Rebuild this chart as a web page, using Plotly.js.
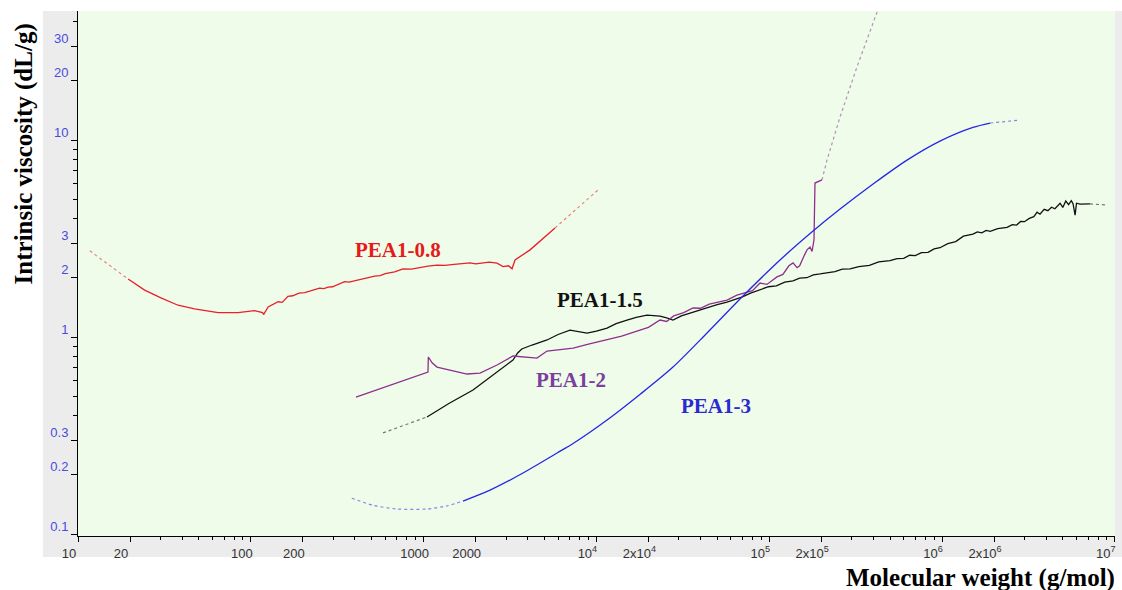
<!DOCTYPE html>
<html><head><meta charset="utf-8">
<script src="https://cdn.plot.ly/plotly-3.0.1.min.js"></script>
<style>html,body{margin:0;padding:0;background:#fff}#chart{width:1122px;height:590px}</style>
</head><body><div id="chart"></div>
<script>
// ---- Data (molecular weight in g/mol, intrinsic viscosity in dL/g) ----
const mwRed = [11.7, 14.3, 19.5, 24.3, 30.2, 37.9, 47.3, 64.6, 84.3, 105, 117, 118.5, 126, 135, 144, 152, 164, 175, 190, 205, 223, 236, 250, 265, 280, 297, 315, 332, 349, 370, 390, 412, 434, 475, 521, 560, 600, 680, 760, 850, 950, 1060, 1196, 1330, 1500, 1680, 1856, 2000, 2200, 2400, 2660, 2880, 3100, 3250, 3380, 4130, 5760, 7030, 10200];
const ivRed = [2.74, 2.41, 1.97, 1.73, 1.58, 1.45, 1.39, 1.33, 1.33, 1.36, 1.33, 1.30, 1.42, 1.46, 1.51, 1.50, 1.61, 1.62, 1.67, 1.68, 1.72, 1.74, 1.77, 1.76, 1.79, 1.80, 1.84, 1.86, 1.91, 1.90, 1.92, 1.95, 1.97, 2.00, 2.04, 2.05, 2.10, 2.14, 2.22, 2.21, 2.26, 2.29, 2.32, 2.31, 2.34, 2.36, 2.38, 2.35, 2.37, 2.40, 2.37, 2.28, 2.30, 2.22, 2.46, 2.77, 3.58, 4.16, 5.57];

const mwBlack = [582, 800, 1046, 1400, 1932, 2500, 3290, 3500, 3700, 4240, 5180, 6000, 7030, 8830, 10000, 11520, 13000, 15030, 17000, 19630, 21500, 23340, 25500, 27740, 31000, 36240, 40000, 45000, 50000, 57000, 63000, 70000, 78000, 88500, 99000, 110000, 123000, 137300, 150000, 165000, 180000, 196800, 218000, 240000, 265000, 293600, 330000, 380000, 430000, 500000, 550000, 600000, 650000, 700000, 760000, 830000, 900000, 973000, 1.08e6, 1.2e6, 1.33e6, 1.51e6, 1.6e6, 1.7e6, 1.8e6, 1.9e6, 2.1e6, 2.38e6, 2.55e6, 2.7e6, 2.85e6, 3.0e6, 3.2e6, 3.4e6, 3.55e6, 3.69e6, 3.9e6, 4.1e6, 4.3e6, 4.5e6, 4.82e6, 5.0e6, 5.2e6, 5.4e6, 5.6e6, 5.73e6, 5.89e6, 6.0e6, 6.29e6, 7.18e6, 9.0e6];
const ivBlack = [0.326, 0.36, 0.393, 0.46, 0.538, 0.64, 0.764, 0.83, 0.87, 0.911, 0.966, 1.03, 1.085, 1.048, 1.07, 1.111, 1.17, 1.22, 1.26, 1.293, 1.29, 1.278, 1.25, 1.22, 1.28, 1.339, 1.37, 1.42, 1.46, 1.505, 1.55, 1.60, 1.67, 1.733, 1.80, 1.82, 1.90, 1.93, 1.99, 2.00, 2.07, 2.09, 2.13, 2.15, 2.21, 2.22, 2.28, 2.31, 2.41, 2.44, 2.50, 2.51, 2.60, 2.59, 2.68, 2.69, 2.80, 2.84, 2.98, 3.05, 3.25, 3.33, 3.42, 3.38, 3.48, 3.44, 3.55, 3.60, 3.72, 3.70, 3.86, 3.85, 4.00, 4.08, 4.30, 4.20, 4.45, 4.38, 4.56, 4.48, 4.78, 4.55, 4.90, 4.70, 4.92, 4.75, 4.16, 4.78, 4.73, 4.74, 4.68];

const mwPurple = [406, 600, 800, 1060, 1065, 1120, 1196, 1421, 1783, 2120, 2660, 3290, 3710, 4530, 5180, 7330, 9000, 11520, 14000, 17870, 20000, 23340, 25500, 28000, 32000, 36240, 40000, 45000, 50000, 57000, 65000, 74400, 80000, 88500, 97000, 110900, 120000, 130000, 137300, 145000, 150000, 158000, 165500, 172200, 177000, 181600, 183000, 184000, 202000, 216000, 257000, 322000, 399000, 460000];
const ivPurple = [0.496, 0.559, 0.609, 0.664, 0.792, 0.74, 0.704, 0.680, 0.649, 0.656, 0.721, 0.801, 0.792, 0.782, 0.849, 0.879, 0.92, 0.966, 1.01, 1.085, 1.12, 1.22, 1.20, 1.28, 1.33, 1.404, 1.40, 1.47, 1.50, 1.54, 1.63, 1.693, 1.72, 1.88, 1.85, 2.02, 2.08, 2.30, 2.38, 2.25, 2.30, 2.55, 2.77, 2.86, 2.72, 3.11, 4.5, 6.05, 6.27, 7.91, 13.1, 23.5, 39.3, 55];

const mwBlue = [384, 509, 702, 1046, 1366, 1690, 2422, 3760, 5920, 7330, 11520, 18000, 27740, 43650, 70500, 115500, 179300, 257000, 399000, 627000, 973000, 1.51e6, 1.9e6, 2.75e6];
const ivBlue = [0.152, 0.140, 0.134, 0.134, 0.139, 0.147, 0.167, 0.204, 0.258, 0.288, 0.379, 0.514, 0.704, 1.048, 1.615, 2.46, 3.45, 4.46, 5.98, 7.91, 9.88, 11.6, 12.2, 12.6];

const seriesNames = ['PEA1-0.8', 'PEA1-1.5', 'PEA1-2', 'PEA1-3'];

const xTickVals = [10, 20, 100, 200, 1000, 2000, 1e4, 2e4, 1e5, 2e5, 1e6, 2e6, 1e7];
const xTickText = ['10', '20', '100', '200', '1000', '2000', '10<sup>4</sup>', '2x10<sup>4</sup>', '10<sup>5</sup>', '2x10<sup>5</sup>', '10<sup>6</sup>', '2x10<sup>6</sup>', '10<sup>7</sup>'];
const yTickVals = [0.1, 0.2, 0.3, 1, 2, 3, 10, 20, 30];
const yTickText = ['0.1', '0.2', '0.3', '1', '2', '3', '10', '20', '30'];

// ---- minor tick positions (3..9 in each decade) ----
const xMinor = [];
for (let d = 10; d < 1e7; d *= 10) for (let m = 3; m <= 9; m++) xMinor.push(m * d);
const yMinor = [0.4, 0.5, 0.6, 0.7, 0.8, 0.9, 4, 5, 6, 7, 8, 9, 40];

// ---- traces: solid body plus faint dotted ends ----
function piece(x, y, keep, color, faint, name, shape) {
  const xs = [], ys = [];
  x.forEach((v, i) => { if (keep(v)) { xs.push(v); ys.push(y[i]); } });
  return {
    x: xs, y: ys, type: 'scatter', mode: 'lines', name: name, showlegend: false,
    line: { color: color, width: faint ? 1.2 : 1.3, dash: faint ? 'dot' : 'solid', shape: shape || 'linear', smoothing: 0.8 },
    opacity: faint ? 0.55 : 1
  };
}
function series(x, y, lo, hi, color, name, shape) {
  return [
    piece(x, y, v => v <= lo, color, true, name, shape),
    piece(x, y, v => v >= lo && v <= hi, color, false, name, shape),
    piece(x, y, v => v >= hi, color, true, name, shape)
  ];
}
const RED = '#e8202a', BLACK = '#111111', PURPLE = '#8e2f8e', BLUE = '#2626e6';
const traces = [].concat(
  series(mwRed, ivRed, 19.5, 5760, RED, seriesNames[0]),
  series(mwBlack, ivBlack, 1046, 7.18e6, BLACK, seriesNames[1]),
  series(mwPurple, ivPurple, 0, 202000, PURPLE, seriesNames[2]),
  series(mwBlue, ivBlue, 1690, 1.9e6, BLUE, seriesNames[3], 'spline')
);

const SERIF = 'Liberation Serif, Times New Roman, serif';
const SANS = 'Liberation Sans, Arial, sans-serif';
function lab(text, x, y, color) {
  return { text: '<b>' + text + '</b>', x: Math.log10(x), y: Math.log10(y), xref: 'x', yref: 'y',
    showarrow: false, font: { family: SERIF, size: 21, color: color } };
}

const layout = {
  width: 1122, height: 590,
  margin: { l: 78, r: 7, t: 11, b: 54, pad: 0 },
  paper_bgcolor: '#ffffff', plot_bgcolor: '#effcea',
  showlegend: false,
  xaxis: {
    type: 'log', range: [1, 7.001], showgrid: false, zeroline: false,
    showline: true, linecolor: '#000', linewidth: 1,
    ticks: 'outside', ticklen: 5, tickcolor: '#000', tickwidth: 1,
    tickmode: 'array', tickvals: xTickVals, ticktext: xTickText,
    tickfont: { family: SANS, size: 13, color: '#333333' },
    ticklabelshift: -9,
    minor: { tickmode: 'array', tickvals: xMinor, ticks: 'outside', ticklen: 3, tickcolor: '#000', showgrid: false }
  },
  yaxis: {
    type: 'log', range: [-1.01, 1.655], showgrid: false, zeroline: false,
    showline: true, linecolor: '#000', linewidth: 1,
    ticks: 'outside', ticklen: 6, tickcolor: '#000', tickwidth: 1,
    tickmode: 'array', tickvals: yTickVals, ticktext: yTickText,
    tickfont: { family: SANS, size: 13, color: '#4a4ae0' },
    ticklabelshift: -8,
    minor: { tickmode: 'array', tickvals: yMinor, ticks: 'outside', ticklen: 4, tickcolor: '#000', showgrid: false }
  },
  shapes: [
    { type: 'rect', xref: 'paper', yref: 'paper', x0: -0.0338, x1: 0, y0: -0.04, y1: 1, fillcolor: '#ececec', line: { width: 0 }, layer: 'below' },
    { type: 'rect', xref: 'paper', yref: 'paper', x0: 0, x1: 1.0068, y0: -0.04, y1: 0, fillcolor: '#ececec', line: { width: 0 }, layer: 'below' },
    { type: 'rect', xref: 'paper', yref: 'paper', x0: 1, x1: 1.0068, y0: 0, y1: 1, fillcolor: '#ececec', line: { width: 0 }, layer: 'below' }
  ],
  annotations: [
    lab(seriesNames[0], 711, 2.77, '#e61a1a'),
    lab(seriesNames[1], 10500, 1.54, '#111111'),
    lab(seriesNames[2], 7130, 0.605, '#7b3f9e'),
    lab(seriesNames[3], 49200, 0.446, '#2a2ad0'),
    { text: '<b>Intrinsic viscosity (dL/g)</b>', xref: 'paper', yref: 'paper', x: -0.052, y: 0.727,
      xanchor: 'center', yanchor: 'middle', textangle: -90, showarrow: false,
      font: { family: SERIF, size: 25, color: '#000' } },
    { text: '<b>Molecular weight (g/mol)</b>', xref: 'paper', yref: 'paper', x: 1.002, y: -0.08,
      xanchor: 'right', yanchor: 'middle', showarrow: false,
      font: { family: SERIF, size: 25, color: '#000' } }
  ]
};

Plotly.newPlot('chart', traces, layout, { displayModeBar: false, staticPlot: true });
</script></body></html>
